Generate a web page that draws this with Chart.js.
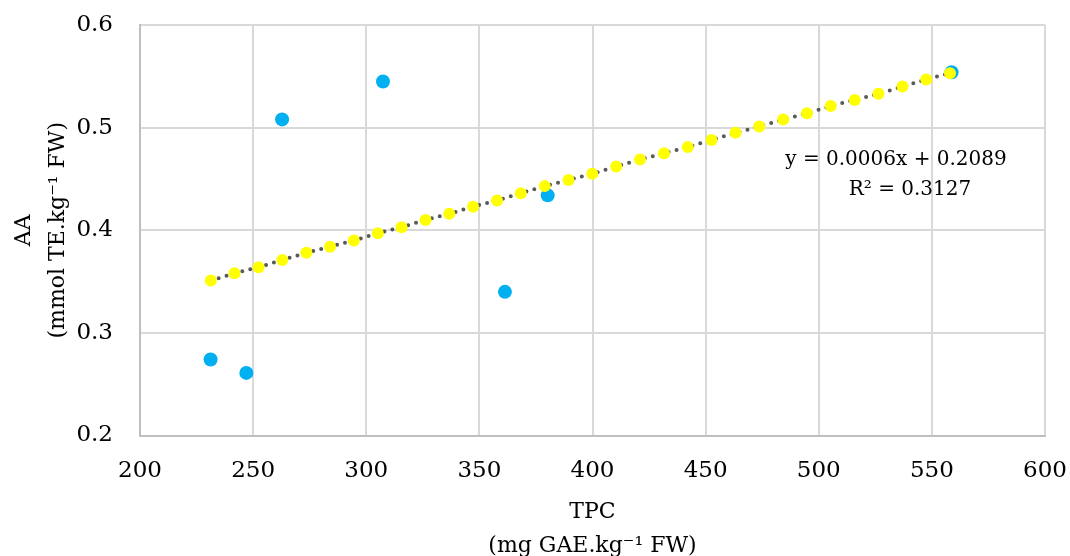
<!DOCTYPE html>
<html>
<head>
<meta charset="utf-8">
<title>AA vs TPC</title>
<script src="https://cdn.jsdelivr.net/npm/chart.js@4.4.1/dist/chart.umd.min.js"></script>
<style>
    html, body { margin: 0; padding: 0; background: #fff; }
    #wrap { width: 1070px; height: 556px; }
</style>
</head>
<body>
<div id="wrap"><canvas id="chart" width="1070" height="556"></canvas></div>
<script>
// Samples: TPC (mg GAE/kg FW) against AA (mmol TE/kg FW)
const tpcValues = [231.2, 247.0, 262.8, 307.4, 361.3, 380.2, 558.7];
const aaValues = [0.274, 0.261, 0.508, 0.545, 0.340, 0.434, 0.554];

// Yellow markers sitting on the linear trendline
const trendX = [231.3, 241.8, 252.4, 262.9, 273.5, 284.0, 294.5, 305.1, 315.6, 326.2,
    336.7, 347.2, 357.8, 368.3, 378.9, 389.4, 399.9, 410.5, 421.0, 431.6,
    442.1, 452.6, 463.2, 473.7, 484.3, 494.8, 505.3, 515.9, 526.4, 537.0,
    547.5, 558.0];
const trendY = [0.351, 0.358, 0.364, 0.371, 0.378, 0.384, 0.390, 0.397, 0.403, 0.410,
    0.416, 0.423, 0.429, 0.436, 0.443, 0.449, 0.455, 0.462, 0.469, 0.475,
    0.481, 0.488, 0.495, 0.501, 0.508, 0.514, 0.521, 0.527, 0.533, 0.540,
    0.547, 0.553];

const xTicks = [200, 250, 300, 350, 400, 450, 500, 550, 600];
const yTicks = [0.2, 0.3, 0.4, 0.5, 0.6];

const xTitle = ['TPC', '(mg GAE.kg\u207B\u00B9 FW)'];
const yTitle = ['AA', '(mmol TE.kg\u207B\u00B9 FW)'];
const trendLabel = ['y = 0.0006x + 0.2089', 'R\u00B2 = 0.3127'];

const FONT = '"DejaVu Serif", "Liberation Serif", serif';

// equation text, placed relative to the plot area
const equationPlugin = {
    id: 'equation',
    afterDatasetsDraw(chart) {
        const { ctx, chartArea } = chart;
        ctx.save();
        ctx.font = `20px ${FONT}`;
        ctx.fillStyle = '#000';
        ctx.textAlign = 'center';
        ctx.textBaseline = 'middle';
        ctx.fillText(trendLabel[0], chartArea.right - 149, chartArea.top + 135);
        ctx.fillText(trendLabel[1], chartArea.right - 135, chartArea.top + 165);
        ctx.restore();
    }
};

const ctx = document.getElementById('chart').getContext('2d');
const chart = new Chart(ctx, {
    type: 'scatter',
    data: {
        datasets: [
            {
                label: 'Linear trend',
                data: trendX.map((x, i) => ({ x: x, y: trendY[i] })),
                showLine: true,
                borderColor: '#595959',
                borderWidth: 4,
                borderDash: [0, 8.2],
                borderCapStyle: 'round',
                tension: 0,
                pointRadius: 6,
                pointBackgroundColor: '#FFFF00',
                pointBorderColor: '#FFFF00',
                pointBorderWidth: 0
            },
            {
                label: 'AA',
                data: tpcValues.map((x, i) => ({ x: x, y: aaValues[i] })),
                pointRadius: 7,
                pointBackgroundColor: '#00B0F0',
                pointBorderColor: '#00B0F0',
                pointBorderWidth: 0
            }
        ]
    },
    options: {
        responsive: false,
        animation: false,
        devicePixelRatio: 1,
        layout: {
            padding: { top: 25, right: 25, left: 0, bottom: 0 }
        },
        plugins: {
            legend: { display: false },
            tooltip: { enabled: false }
        },
        scales: {
            x: {
                type: 'linear',
                min: 200,
                max: 600,
                afterBuildTicks: scale => { scale.ticks = xTicks.map(v => ({ value: v })); },
                afterFit: scale => {
                    scale.height = 120.5;
                    scale.paddingLeft = 0;
                    scale.paddingRight = 0;
                },
                grid: { color: '#d9d9d9', lineWidth: 2, drawTicks: false },
                border: { color: '#bfbfbf', width: 2 },
                ticks: {
                    padding: 22,
                    color: '#000',
                    font: { family: FONT, size: 23 }
                },
                title: {
                    display: true,
                    text: xTitle,
                    color: '#000',
                    font: { family: FONT, size: 22, lineHeight: 1.55 },
                    padding: { top: 0, bottom: -7 }
                }
            },
            y: {
                type: 'linear',
                min: 0.2,
                max: 0.6,
                afterBuildTicks: scale => { scale.ticks = yTicks.map(v => ({ value: v })); },
                afterFit: scale => {
                    scale.width = 140;
                    scale.paddingTop = 0;
                    scale.paddingBottom = 0;
                },
                grid: { color: '#d9d9d9', lineWidth: 2, drawTicks: false },
                border: { color: '#bfbfbf', width: 2 },
                ticks: {
                    padding: 27,
                    color: '#000',
                    font: { family: FONT, size: 23 },
                    callback: v => v.toFixed(1)
                },
                title: {
                    display: true,
                    text: yTitle,
                    color: '#000',
                    font: { family: FONT, size: 22, lineHeight: 1.55 },
                    padding: { top: 7, bottom: 0 }
                }
            }
        }
    },
    plugins: [equationPlugin]
});
</script>
</body>
</html>
